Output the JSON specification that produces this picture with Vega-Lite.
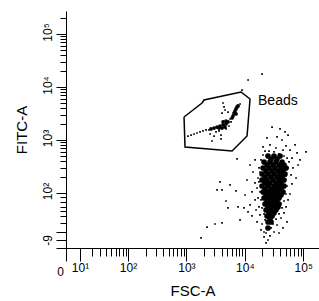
{
  "$schema": "https://vega.github.io/schema/vega-lite/v6.json",
  "autosize": "none",
  "width": 253,
  "height": 237,
  "padding": {"left": 66, "top": 11, "right": 0, "bottom": 53},
  "background": "white",
  "config": {"view": {"stroke": null}},
  "datasets": {
    "sparse": [
      {"fsc": 4.466, "fitc": 3.245}, {"fsc": 4.603, "fitc": 3.208}, {"fsc": 4.688, "fitc": 3.151}, {"fsc": 4.740, "fitc": 3.094},
      {"fsc": 4.551, "fitc": 3.057}, {"fsc": 4.637, "fitc": 3.000}, {"fsc": 4.380, "fitc": 3.038}, {"fsc": 4.431, "fitc": 2.906},
      {"fsc": 4.312, "fitc": 2.868}, {"fsc": 4.860, "fitc": 2.906}, {"fsc": 4.774, "fitc": 2.811}, {"fsc": 4.894, "fitc": 2.755},
      {"fsc": 5.048, "fitc": 2.774}, {"fsc": 4.346, "fitc": 2.792}, {"fsc": 4.705, "fitc": 2.887}, {"fsc": 4.534, "fitc": 2.849},
      {"fsc": 4.654, "fitc": 2.811}, {"fsc": 4.808, "fitc": 2.660}, {"fsc": 4.757, "fitc": 2.585}, {"fsc": 4.825, "fitc": 2.472},
      {"fsc": 4.791, "fitc": 2.340}, {"fsc": 4.808, "fitc": 2.170}, {"fsc": 4.774, "fitc": 1.981}, {"fsc": 4.740, "fitc": 1.868},
      {"fsc": 4.705, "fitc": 1.736}, {"fsc": 4.671, "fitc": 1.623}, {"fsc": 4.620, "fitc": 1.528}, {"fsc": 4.551, "fitc": 1.396},
      {"fsc": 4.500, "fitc": 1.264}, {"fsc": 4.431, "fitc": 1.189}, {"fsc": 4.363, "fitc": 1.245}, {"fsc": 4.295, "fitc": 1.415},
      {"fsc": 4.260, "fitc": 1.585}, {"fsc": 4.243, "fitc": 1.736}, {"fsc": 4.226, "fitc": 1.906}, {"fsc": 4.209, "fitc": 2.094},
      {"fsc": 4.226, "fitc": 2.283}, {"fsc": 4.243, "fitc": 2.472}, {"fsc": 4.277, "fitc": 2.623}, {"fsc": 4.175, "fitc": 2.623},
      {"fsc": 4.089, "fitc": 2.528}, {"fsc": 4.140, "fitc": 2.396}, {"fsc": 4.038, "fitc": 2.245}, {"fsc": 4.175, "fitc": 2.189},
      {"fsc": 4.123, "fitc": 2.019}, {"fsc": 4.003, "fitc": 1.962}, {"fsc": 3.849, "fitc": 2.038}, {"fsc": 3.747, "fitc": 2.151},
      {"fsc": 3.575, "fitc": 2.208}, {"fsc": 3.524, "fitc": 2.057}, {"fsc": 3.610, "fitc": 2.057}, {"fsc": 3.678, "fitc": 1.849},
      {"fsc": 3.712, "fitc": 1.717}, {"fsc": 3.884, "fitc": 1.736}, {"fsc": 3.986, "fitc": 1.717}, {"fsc": 4.055, "fitc": 1.642},
      {"fsc": 4.123, "fitc": 1.566}, {"fsc": 4.089, "fitc": 1.774}, {"fsc": 4.175, "fitc": 1.868}, {"fsc": 4.192, "fitc": 1.679},
      {"fsc": 3.918, "fitc": 1.491}, {"fsc": 3.490, "fitc": 1.415}, {"fsc": 3.610, "fitc": 1.434}, {"fsc": 3.353, "fitc": 1.358},
      {"fsc": 3.250, "fitc": 1.151}, {"fsc": 4.363, "fitc": 1.057}, {"fsc": 4.329, "fitc": 1.170}, {"fsc": 4.329, "fitc": 1.264},
      {"fsc": 4.397, "fitc": 1.113}, {"fsc": 3.866, "fitc": 2.642}, {"fsc": 4.055, "fitc": 4.132}, {"fsc": 4.295, "fitc": 4.245},
      {"fsc": 3.952, "fitc": 3.943}, {"fsc": 4.911, "fitc": 2.528}, {"fsc": 4.877, "fitc": 2.283}, {"fsc": 4.945, "fitc": 2.623},
      {"fsc": 4.723, "fitc": 1.453}, {"fsc": 4.654, "fitc": 1.340}, {"fsc": 4.586, "fitc": 1.245}, {"fsc": 4.449, "fitc": 1.340},
      {"fsc": 4.277, "fitc": 1.302}, {"fsc": 4.209, "fitc": 1.453}, {"fsc": 4.312, "fitc": 2.717}, {"fsc": 4.414, "fitc": 2.792},
      {"fsc": 4.500, "fitc": 2.774}, {"fsc": 4.586, "fitc": 2.736}, {"fsc": 4.671, "fitc": 2.698}, {"fsc": 4.723, "fitc": 2.660},
      {"fsc": 4.260, "fitc": 2.396}, {"fsc": 4.243, "fitc": 2.208}, {"fsc": 4.260, "fitc": 2.019}, {"fsc": 4.277, "fitc": 1.868},
      {"fsc": 4.295, "fitc": 1.717}, {"fsc": 4.329, "fitc": 1.604}, {"fsc": 4.346, "fitc": 1.491}, {"fsc": 4.705, "fitc": 2.321},
      {"fsc": 4.723, "fitc": 2.132}, {"fsc": 4.705, "fitc": 1.981}, {"fsc": 4.671, "fitc": 1.849}, {"fsc": 4.637, "fitc": 1.717},
      {"fsc": 4.586, "fitc": 1.604}, {"fsc": 4.534, "fitc": 1.509}, {"fsc": 4.483, "fitc": 1.415}, {"fsc": 4.740, "fitc": 2.472},
      {"fsc": 4.671, "fitc": 2.547},
      {"fsc": 3.027, "fitc": 3.075}, {"fsc": 3.079, "fitc": 3.094}, {"fsc": 3.130, "fitc": 3.113}, {"fsc": 3.181, "fitc": 3.132},
      {"fsc": 3.233, "fitc": 3.151}, {"fsc": 3.284, "fitc": 3.170}, {"fsc": 3.336, "fitc": 3.189}, {"fsc": 3.387, "fitc": 3.189},
      {"fsc": 3.438, "fitc": 2.981}, {"fsc": 3.592, "fitc": 3.094}, {"fsc": 3.592, "fitc": 3.019}, {"fsc": 3.627, "fitc": 3.698},
      {"fsc": 3.644, "fitc": 3.623}, {"fsc": 3.661, "fitc": 3.566}, {"fsc": 3.610, "fitc": 3.509}, {"fsc": 3.712, "fitc": 3.528},
      {"fsc": 3.747, "fitc": 3.396}, {"fsc": 3.507, "fitc": 3.151}, {"fsc": 3.558, "fitc": 3.170}, {"fsc": 3.678, "fitc": 3.208},
      {"fsc": 3.729, "fitc": 3.264}, {"fsc": 3.918, "fitc": 3.679}, {"fsc": 3.764, "fitc": 3.340}, {"fsc": 3.404, "fitc": 3.113},
      {"fsc": 3.473, "fitc": 3.075}
    ],
    "core": [
      {"fsc": 4.397, "fitc": 2.698}, {"fsc": 4.500, "fitc": 2.698}, {"fsc": 4.603, "fitc": 2.698},
      {"fsc": 4.329, "fitc": 2.585}, {"fsc": 4.431, "fitc": 2.585}, {"fsc": 4.534, "fitc": 2.585}, {"fsc": 4.637, "fitc": 2.585},
      {"fsc": 4.312, "fitc": 2.472}, {"fsc": 4.414, "fitc": 2.472}, {"fsc": 4.517, "fitc": 2.472}, {"fsc": 4.620, "fitc": 2.472}, {"fsc": 4.705, "fitc": 2.472},
      {"fsc": 4.295, "fitc": 2.358}, {"fsc": 4.397, "fitc": 2.358}, {"fsc": 4.500, "fitc": 2.358}, {"fsc": 4.603, "fitc": 2.358}, {"fsc": 4.688, "fitc": 2.358},
      {"fsc": 4.295, "fitc": 2.245}, {"fsc": 4.380, "fitc": 2.245}, {"fsc": 4.483, "fitc": 2.245}, {"fsc": 4.586, "fitc": 2.245}, {"fsc": 4.671, "fitc": 2.245},
      {"fsc": 4.295, "fitc": 2.132}, {"fsc": 4.397, "fitc": 2.132}, {"fsc": 4.500, "fitc": 2.132}, {"fsc": 4.586, "fitc": 2.132}, {"fsc": 4.671, "fitc": 2.132},
      {"fsc": 4.312, "fitc": 2.019}, {"fsc": 4.397, "fitc": 2.019}, {"fsc": 4.483, "fitc": 2.019}, {"fsc": 4.568, "fitc": 2.019}, {"fsc": 4.654, "fitc": 2.019},
      {"fsc": 4.329, "fitc": 1.906}, {"fsc": 4.414, "fitc": 1.906}, {"fsc": 4.500, "fitc": 1.906}, {"fsc": 4.586, "fitc": 1.906},
      {"fsc": 4.346, "fitc": 1.792}, {"fsc": 4.431, "fitc": 1.792}, {"fsc": 4.517, "fitc": 1.792}, {"fsc": 4.586, "fitc": 1.792},
      {"fsc": 4.363, "fitc": 1.679}, {"fsc": 4.449, "fitc": 1.679}, {"fsc": 4.534, "fitc": 1.679},
      {"fsc": 4.380, "fitc": 1.566}, {"fsc": 4.466, "fitc": 1.566},
      {"fsc": 4.397, "fitc": 1.453}, {"fsc": 4.449, "fitc": 1.453},
      {"fsc": 4.397, "fitc": 1.340},
      {"fsc": 4.449, "fitc": 2.642}, {"fsc": 4.551, "fitc": 2.642},
      {"fsc": 4.380, "fitc": 2.528}, {"fsc": 4.483, "fitc": 2.528}, {"fsc": 4.586, "fitc": 2.528}, {"fsc": 4.671, "fitc": 2.528},
      {"fsc": 4.363, "fitc": 2.415}, {"fsc": 4.466, "fitc": 2.415}, {"fsc": 4.568, "fitc": 2.415}, {"fsc": 4.654, "fitc": 2.415},
      {"fsc": 4.346, "fitc": 2.302}, {"fsc": 4.449, "fitc": 2.302}, {"fsc": 4.551, "fitc": 2.302}, {"fsc": 4.637, "fitc": 2.302},
      {"fsc": 4.346, "fitc": 2.189}, {"fsc": 4.431, "fitc": 2.189}, {"fsc": 4.534, "fitc": 2.189}, {"fsc": 4.620, "fitc": 2.189},
      {"fsc": 4.346, "fitc": 2.075}, {"fsc": 4.449, "fitc": 2.075}, {"fsc": 4.534, "fitc": 2.075}, {"fsc": 4.620, "fitc": 2.075},
      {"fsc": 4.363, "fitc": 1.962}, {"fsc": 4.449, "fitc": 1.962}, {"fsc": 4.534, "fitc": 1.962}, {"fsc": 4.620, "fitc": 1.962},
      {"fsc": 4.380, "fitc": 1.849}, {"fsc": 4.466, "fitc": 1.849}, {"fsc": 4.551, "fitc": 1.849},
      {"fsc": 4.397, "fitc": 1.736}, {"fsc": 4.483, "fitc": 1.736}, {"fsc": 4.568, "fitc": 1.736},
      {"fsc": 4.414, "fitc": 1.623}, {"fsc": 4.500, "fitc": 1.623},
      {"fsc": 4.431, "fitc": 1.509}
    ],
    "beads": [
      {"fsc": 3.421, "fitc": 3.208}, {"fsc": 3.473, "fitc": 3.226}, {"fsc": 3.524, "fitc": 3.245}, {"fsc": 3.575, "fitc": 3.264},
      {"fsc": 3.627, "fitc": 3.283}, {"fsc": 3.678, "fitc": 3.302}, {"fsc": 3.627, "fitc": 3.340}, {"fsc": 3.678, "fitc": 3.358},
      {"fsc": 3.712, "fitc": 3.340}, {"fsc": 3.558, "fitc": 3.226}, {"fsc": 3.610, "fitc": 3.226}, {"fsc": 3.661, "fitc": 3.245},
      {"fsc": 3.798, "fitc": 3.453}, {"fsc": 3.815, "fitc": 3.509}, {"fsc": 3.832, "fitc": 3.547}, {"fsc": 3.849, "fitc": 3.585},
      {"fsc": 3.866, "fitc": 3.623}, {"fsc": 3.781, "fitc": 3.415}, {"fsc": 3.849, "fitc": 3.491}, {"fsc": 3.884, "fitc": 3.642}
    ],
    "gate": [
      {"order": 1, "fsc": 2.959, "fitc": 3.434}, {"order": 2, "fsc": 3.267, "fitc": 3.698},
      {"order": 3, "fsc": 3.301, "fitc": 3.755}, {"order": 4, "fsc": 3.935, "fitc": 3.906},
      {"order": 5, "fsc": 4.089, "fitc": 3.774}, {"order": 6, "fsc": 4.038, "fitc": 3.075},
      {"order": 7, "fsc": 3.781, "fitc": 2.792}, {"order": 8, "fsc": 2.976, "fitc": 2.868},
      {"order": 9, "fsc": 2.959, "fitc": 3.434}
    ],
    "labels": [{"fsc": 4.226, "fitc": 3.736, "text": "Beads"}]
  },
  "encoding": {
    "x": {
      "field": "fsc", "type": "quantitative",
      "scale": {"domain": [0.938, 5.27], "nice": false, "zero": false},
      "axis": {
        "title": "FSC-A",
        "values": [0.938, 1.178, 1.375, 1.521, 1.623, 1.709, 1.786, 1.854, 1.914, 1.966,
                   2, 2.301, 2.477, 2.602, 2.699, 2.778, 2.845, 2.903, 2.954,
                   3, 3.301, 3.477, 3.602, 3.699, 3.778, 3.845, 3.903, 3.954,
                   4, 4.301, 4.477, 4.602, 4.699, 4.778, 4.845, 4.903, 4.954, 5],
        "labelExpr": "datum.value < 0.95 ? '0' : datum.value == 1.178 ? '10¹' : datum.value == 2 ? '10²' : datum.value == 3 ? '10³' : datum.value == 4 ? '10⁴' : datum.value == 5 ? '10⁵' : ''",
        "labelAngle": 0,
        "labelAlign": "center",
        "labelBaseline": "top",
        "labelOverlap": false,
        "labelFlush": false,
        "labelFont": "Liberation Sans",
        "labelFontSize": 12,
        "labelColor": "black",
        "labelPadding": {"condition": {"test": "datum.value < 0.95", "value": 5}, "value": 1},
        "labelOffset": {"condition": {"test": "datum.value < 0.95", "value": -6}, "value": 0},
        "tickSize": {"condition": {"test": "indexof([0.938, 1.178, 2, 3, 4, 5], datum.value) >= 0", "value": 13}, "value": 8},
        "tickColor": "black",
        "domainColor": "black",
        "grid": false,
        "titleFont": "Liberation Sans",
        "titleFontSize": 15,
        "titleFontWeight": "normal",
        "titleColor": "black",
        "titlePadding": 6
      }
    },
    "y": {
      "field": "fitc", "type": "quantitative",
      "scale": {"domain": [0.962, 5.434], "nice": false, "zero": false},
      "axis": {
        "title": "FITC-A",
        "values": [0.962, 1.113, 1.264, 1.434, 1.566, 1.66, 1.745, 1.83, 1.915,
                   2, 2.301, 2.477, 2.602, 2.699, 2.778, 2.845, 2.903, 2.954,
                   3, 3.301, 3.477, 3.602, 3.699, 3.778, 3.845, 3.903, 3.954,
                   4, 4.301, 4.477, 4.602, 4.699, 4.778, 4.845, 4.903, 4.954, 5, 5.301],
        "labelExpr": "datum.value < 0.97 ? '-9' : datum.value == 2 ? '10²' : datum.value == 3 ? '10³' : datum.value == 4 ? '10⁴' : datum.value == 5 ? '10⁵' : ''",
        "labelAngle": -90,
        "labelAlign": "center",
        "labelBaseline": "bottom",
        "labelOverlap": false,
        "labelFlush": false,
        "labelFont": "Liberation Sans",
        "labelFontSize": 12,
        "labelColor": "black",
        "labelPadding": 2,
        "labelOffset": {"condition": {"test": "datum.value < 0.97", "value": -8}, "value": -2},
        "tickSize": {"condition": {"test": "indexof([0.962, 1.113, 1.264, 2, 3, 4, 5], datum.value) >= 0", "value": 10}, "value": 6},
        "tickColor": "black",
        "domainColor": "black",
        "grid": false,
        "titleFont": "Liberation Sans",
        "titleFontSize": 15,
        "titleFontWeight": "normal",
        "titleColor": "black",
        "titlePadding": 12
      }
    }
  },
  "layer": [
    {"data": {"name": "sparse"}, "mark": {"type": "square", "filled": true, "color": "black", "size": 3, "opacity": 1}},
    {"data": {"name": "core"}, "mark": {"type": "circle", "color": "black", "size": 32, "opacity": 1}},
    {"data": {"name": "beads"}, "mark": {"type": "circle", "color": "black", "size": 14, "opacity": 1}},
    {"data": {"name": "gate"}, "mark": {"type": "line", "color": "black", "strokeWidth": 1.5}, "encoding": {"order": {"field": "order", "type": "quantitative"}}},
    {"data": {"name": "labels"}, "mark": {"type": "text", "align": "left", "baseline": "middle", "font": "Liberation Sans", "fontSize": 14, "color": "black"}, "encoding": {"text": {"field": "text"}}},
    {"data": {"values": [{}]}, "mark": {"type": "rule", "color": "black"}, "encoding": {"x": null, "y": {"datum": 5.434}}}
  ]
}
